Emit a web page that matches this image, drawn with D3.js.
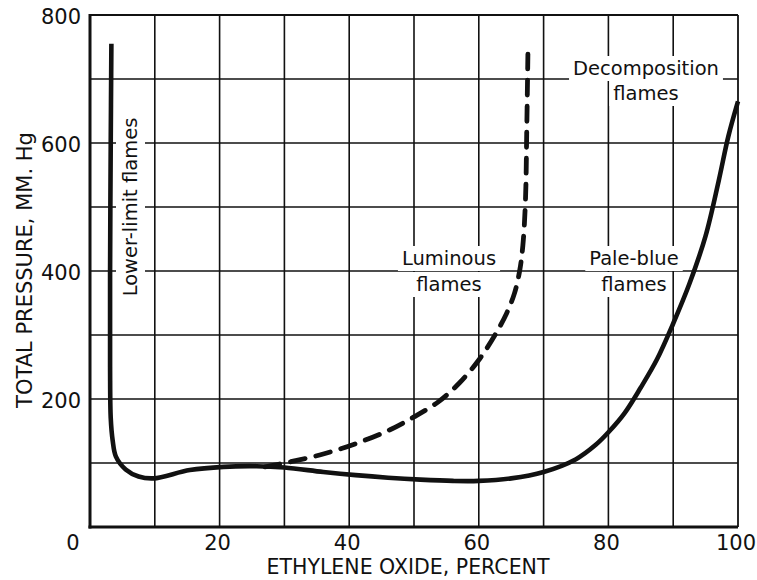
<!DOCTYPE html>
<html>
<head>
<meta charset="utf-8">
<script src="https://cdn.jsdelivr.net/npm/d3@7"></script>
<style>
  html, body { margin: 0; padding: 0; background: #fff; }
  svg { display: block; }
  text { font-family: "DejaVu Sans", "Liberation Sans", sans-serif; fill: #111; }
</style>
</head>
<body>
<svg id="chart" width="757" height="580"></svg>
<script>
// ---- Data ----
const xTickValues = [0, 20, 40, 60, 80, 100];
const xTickLabels = ["0", "20", "40", "60", "80", "100"];
const yTickValues = [200, 400, 600, 800];
const yTickLabels = ["200", "400", "600", "800"];

// Solid boundary: lower-limit flames (vertical part) continuing into pale-blue flames
const solidX = [3.3, 3.2, 3.1, 3.1, 3.2, 3.5, 4.0, 5.5, 7.5, 9.8, 15.4, 20.6, 25.7, 30, 36, 41, 46, 51, 56, 60, 65, 70, 75, 78, 80, 82.5, 85, 87.5, 90, 92.5, 95, 97, 98.5, 100];
const solidY = [755, 600, 400, 250, 170, 135, 110, 90, 79, 76, 89, 94, 95, 93, 86, 81, 77, 74, 72, 72, 76, 86, 106, 128, 148, 178, 218, 262, 318, 380, 455, 540, 610, 665];

// Dashed boundary: luminous flames
const dashedX = [27, 31, 36, 41.2, 46.3, 50, 53.8, 57, 60, 62.5, 64.3, 65.5, 66.3, 66.8, 67.2, 67.4, 67.6];
const dashedY = [94, 102, 114, 131, 152, 172, 196, 225, 261, 300, 334, 365, 400, 440, 510, 620, 755];

const xTitle = "ETHYLENE OXIDE, PERCENT";
const yTitle = "TOTAL PRESSURE, MM. Hg";

// ---- Layout ----
const svg = d3.select("#chart");
const x = d3.scaleLinear().domain([0, 100]).range([90, 738]);
const y = d3.scaleLinear().domain([0, 800]).range([527, 15]);
const ink = "#111";

// Grid
const g = svg.append("g");
g.selectAll("line.vg").data(x.ticks(10).filter(d => d > 0 && d < 100)).join("line")
  .attr("x1", d => x(d)).attr("x2", d => x(d)).attr("y1", y(0)).attr("y2", y(800))
  .attr("stroke", ink).attr("stroke-width", 1.6);
g.selectAll("line.hg").data(y.ticks(8).filter(d => d > 0 && d < 800)).join("line")
  .attr("x1", x(0)).attr("x2", x(100)).attr("y1", d => y(d)).attr("y2", d => y(d))
  .attr("stroke", ink).attr("stroke-width", 1.6);

// Frame
g.append("line").attr("x1", x(0)).attr("x2", x(100)).attr("y1", y(800)).attr("y2", y(800)).attr("stroke", ink).attr("stroke-width", 2.2);
g.append("line").attr("x1", x(100)).attr("x2", x(100)).attr("y1", y(0)).attr("y2", y(800)).attr("stroke", ink).attr("stroke-width", 1.8);
g.append("line").attr("x1", x(0)).attr("x2", x(0)).attr("y1", y(0) + 1.5).attr("y2", y(800) - 1).attr("stroke", ink).attr("stroke-width", 3);
g.append("line").attr("x1", x(0) - 1.5).attr("x2", x(100)).attr("y1", y(0)).attr("y2", y(0)).attr("stroke", ink).attr("stroke-width", 3);

// Labels inside the plot with white backgrounds
function label(lines, cx, baselines, rotate) {
  const grp = svg.append("g");
  const t = grp.append("g");
  lines.forEach((s, i) => {
    const txt = t.append("text").text(s).attr("text-anchor", "middle")
      .style("font-size", "19.5px");
    if (rotate) {
      txt.attr("transform", `translate(${baselines[i]},${cx}) rotate(-90)`);
    } else {
      txt.attr("x", cx).attr("y", baselines[i]);
    }
  });
  t.selectAll("text").each(function () {
    const b = this.getBBox();
    let r;
    if (rotate) {
      const m = this.getAttribute("transform");
      const tx = +m.match(/translate\(([^,]+),([^)]+)\)/)[1];
      const ty = +m.match(/translate\(([^,]+),([^)]+)\)/)[2];
      r = { x: tx + b.y - 3, y: ty - b.x - b.width - 3, w: b.height + 6, h: b.width + 6 };
    } else {
      r = { x: b.x - 4, y: b.y - 1, w: b.width + 8, h: b.height + 2 };
    }
    grp.insert("rect", ":first-child").attr("x", r.x).attr("y", r.y)
      .attr("width", r.w).attr("height", r.h).attr("fill", "#fff");
  });
}
label(["Decomposition", "flames"], 646, [75, 100]);
label(["Luminous", "flames"], 449, [265, 291]);
label(["Pale-blue", "flames"], 634, [265, 291]);
label(["Lower-limit flames"], 207, [137], true);

// Curves
const line = d3.line().x(d => x(d[0])).y(d => y(d[1])).curve(d3.curveCatmullRom.alpha(0.5));
svg.append("path").datum(solidX.map((v, i) => [v, solidY[i]]))
  .attr("d", line).attr("fill", "none").attr("stroke", ink)
  .attr("stroke-width", 4.6).attr("stroke-linejoin", "round").attr("stroke-linecap", "butt");
svg.append("path").datum(dashedX.map((v, i) => [v, dashedY[i]]))
  .attr("d", line).attr("fill", "none").attr("stroke", ink)
  .attr("stroke-width", 4.8).attr("stroke-dasharray", "15,11").attr("stroke-linecap", "round");

// Tick labels
svg.selectAll("text.xt").data(xTickValues).join("text")
  .attr("x", (d, i) => d === 0 ? x(d) - 17 : x(d) - 2)
  .attr("y", 550).attr("text-anchor", "middle")
  .style("font-size", "21px")
  .text((d, i) => xTickLabels[i]);
svg.selectAll("text.yt").data(yTickValues).join("text")
  .attr("x", 81).attr("y", d => y(d) + 1).attr("dy", "0.36em").attr("text-anchor", "end")
  .style("font-size", "21px")
  .text((d, i) => yTickLabels[i]);

// Axis titles
svg.append("text").attr("x", 408).attr("y", 574).attr("text-anchor", "middle")
  .style("font-size", "20.5px").text(xTitle);
svg.append("text").attr("transform", "translate(32,270) rotate(-90)").attr("text-anchor", "middle")
  .style("font-size", "21px").text(yTitle);
</script>
</body>
</html>
